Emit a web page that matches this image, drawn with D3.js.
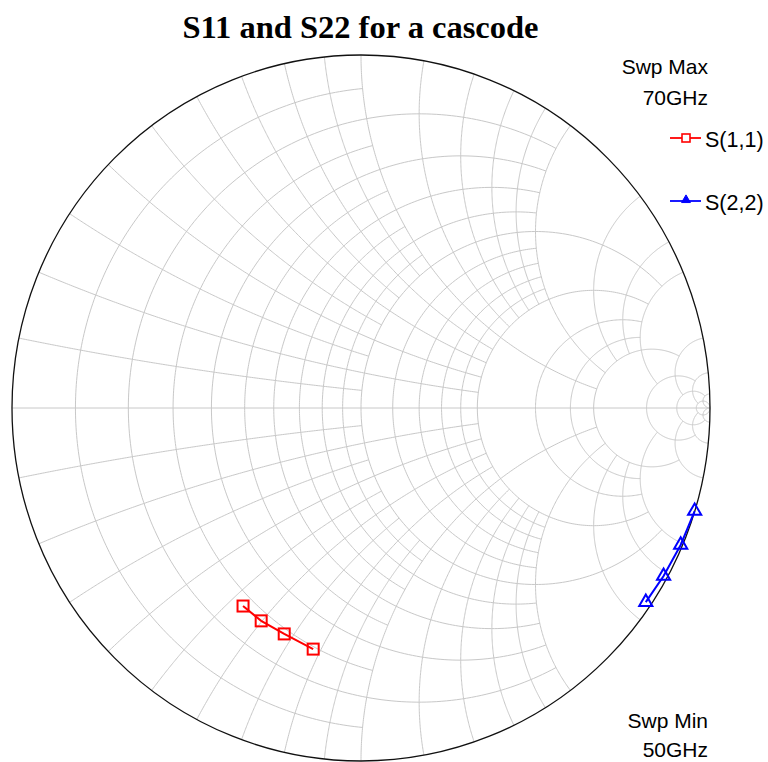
<!DOCTYPE html>
<html>
<head>
<meta charset="utf-8">
<script src="https://cdn.jsdelivr.net/npm/d3@7"></script>
<style>
  body { margin: 0; background: #ffffff; }
  svg { display: block; }
</style>
</head>
<body>
<svg id="chart" width="768" height="762"></svg>
<script>
// ---- Sweep data (reflection coefficients, real / imaginary parts) ----
const freqGHz = [50, 56.7, 63.3, 70];
const s11Re = [-0.137, -0.220, -0.286, -0.338];
const s11Im = [-0.683, -0.640, -0.603, -0.561];
const s22Re = [0.956, 0.916, 0.867, 0.816];
const s22Im = [-0.292, -0.388, -0.476, -0.550];

// ---- Smith grid: normalized values and how far each line runs ----
const gridValues = [0.1, 0.2, 0.3, 0.4, 0.5, 0.6, 0.7, 0.8, 0.9, 1.0,
                    1.2, 1.4, 1.6, 1.8, 2.0, 3, 4, 5, 10, 20, 50];
const gridLimits = [1, 2, 1, 2, 1, 2, 1, 2, 1, 5,
                    2, 2, 2, 2, 5, 5, 5, 10, 20, 50, Infinity];

// ---- Text ----
const titleText = "S11 and S22 for a cascode";
const seriesNames = ["S(1,1)", "S(2,2)"];
const sweepMaxLabel = ["Swp Max", "70GHz"];
const sweepMinLabel = ["Swp Min", "50GHz"];

const svg = d3.select("#chart");
const CX = 361, CY = 408, RX = 349, RY = 353;

const xS = d3.scaleLinear().domain([-1, 1]).range([CX - RX, CX + RX]);
const yS = d3.scaleLinear().domain([-1, 1]).range([CY + RY, CY - RY]);
const line = d3.line().x(d => xS(d[0])).y(d => yS(d[1]));

// z = r + jx  ->  reflection coefficient
function gamma(r, x) {
  const dr = r + 1, nr = r - 1, den = dr * dr + x * x;
  return [(nr * dr + x * x) / den, (2 * x) / den];
}

// constant-resistance circle, kept where |x| <= lim
function resistancePath(r, lim) {
  const c = r / (1 + r), rho = 1 / (1 + r);
  let p1 = 0, p2 = 2 * Math.PI;
  if (isFinite(lim)) {
    const g = gamma(r, lim);
    p1 = Math.atan2(g[1], g[0] - c);
    p2 = 2 * Math.PI - p1;
  }
  const n = 240;
  return d3.range(n + 1).map(i => {
    const p = p1 + (p2 - p1) * i / n;
    return [c + rho * Math.cos(p), rho * Math.sin(p)];
  });
}

// constant-reactance arc, kept where r <= lim
function reactancePath(x, lim) {
  const cy = 1 / x, rad = Math.abs(1 / x);
  const g0 = gamma(0, x);
  const g1 = isFinite(lim) ? gamma(lim, x) : [1, 0];
  const a0 = Math.atan2(g0[1] - cy, g0[0] - 1);
  const a1 = Math.atan2(g1[1] - cy, g1[0] - 1);
  let d = a1 - a0;
  while (d > Math.PI) d -= 2 * Math.PI;
  while (d < -Math.PI) d += 2 * Math.PI;
  const n = 200;
  return d3.range(n + 1).map(i => {
    const a = a0 + d * i / n;
    return [1 + rad * Math.cos(a), cy + rad * Math.sin(a)];
  });
}

const grid = svg.append("g")
  .attr("fill", "none")
  .attr("stroke", "#c8c8c8")
  .attr("stroke-width", 1);

gridValues.forEach((v, i) => {
  const lim = gridLimits[i];
  grid.append("path").attr("d", line(resistancePath(v, lim)));
  grid.append("path").attr("d", line(reactancePath(v, lim)));
  grid.append("path").attr("d", line(reactancePath(-v, lim)));
});

// real axis
grid.append("path").attr("d", line([[-1, 0], [1, 0]]));

// outer rim
svg.append("ellipse")
  .attr("cx", xS(0)).attr("cy", yS(0))
  .attr("rx", xS(1) - xS(0)).attr("ry", yS(-1) - yS(0))
  .attr("fill", "none").attr("stroke", "#111").attr("stroke-width", 1.3);

// ---- Traces ----
const s11 = freqGHz.map((f, i) => [s11Re[i], s11Im[i]]);
const s22 = freqGHz.map((f, i) => [s22Re[i], s22Im[i]]);

svg.append("path").attr("d", line(s11))
  .attr("fill", "none").attr("stroke", "#ff0000").attr("stroke-width", 2);
svg.append("g").selectAll("rect").data(s11).join("rect")
  .attr("x", d => xS(d[0]) - 5.5).attr("y", d => yS(d[1]) - 5.5)
  .attr("width", 11).attr("height", 11)
  .attr("fill", "none").attr("stroke", "#ff0000").attr("stroke-width", 2);

const tri = d3.symbol().type(d3.symbolTriangle).size(75);
svg.append("path").attr("d", line(s22))
  .attr("fill", "none").attr("stroke", "#0000ff").attr("stroke-width", 2);
svg.append("g").selectAll("path").data(s22).join("path")
  .attr("transform", d => `translate(${xS(d[0])},${yS(d[1])})`)
  .attr("d", tri)
  .attr("fill", "none").attr("stroke", "#0000ff").attr("stroke-width", 2);

// ---- Title ----
svg.append("text")
  .attr("x", 360.5).attr("y", 38)
  .attr("text-anchor", "middle")
  .attr("font-family", "'Liberation Serif', 'Times New Roman', serif")
  .attr("font-weight", "bold")
  .attr("font-size", 32.5)
  .attr("fill", "#000")
  .text(titleText);

// ---- Sweep labels ----
const lab = svg.append("g")
  .attr("font-family", "'Liberation Sans', Arial, sans-serif")
  .attr("font-size", 21)
  .attr("fill", "#000");

lab.append("text").attr("x", 708).attr("y", 74).attr("text-anchor", "end").text(sweepMaxLabel[0]);
lab.append("text").attr("x", 708).attr("y", 105).attr("text-anchor", "end").text(sweepMaxLabel[1]);
lab.append("text").attr("x", 708).attr("y", 728).attr("text-anchor", "end").text(sweepMinLabel[0]);
lab.append("text").attr("x", 708).attr("y", 757).attr("text-anchor", "end").text(sweepMinLabel[1]);

// ---- Legend ----
const legend = svg.append("g");
const legY = [138, 201];
const legColors = ["#ff0000", "#0000ff"];
legY.forEach((y, i) => {
  legend.append("line").attr("x1", 670).attr("x2", 701).attr("y1", y).attr("y2", y)
    .attr("stroke", legColors[i]).attr("stroke-width", 1.8);
  legend.append("text").attr("x", 705).attr("y", y + 9)
    .attr("font-family", "'Liberation Sans', Arial, sans-serif")
    .attr("font-size", 21.5).attr("fill", "#000")
    .text(seriesNames[i]);
});
legend.append("rect").attr("x", 682).attr("y", 134).attr("width", 8).attr("height", 8)
  .attr("fill", "#fff").attr("stroke", "#ff0000").attr("stroke-width", 1.6);
legend.append("path")
  .attr("transform", "translate(686,200)")
  .attr("d", d3.symbol().type(d3.symbolTriangle).size(34))
  .attr("fill", "#0000ff").attr("stroke", "#0000ff").attr("stroke-width", 1);
</script>
</body>
</html>
